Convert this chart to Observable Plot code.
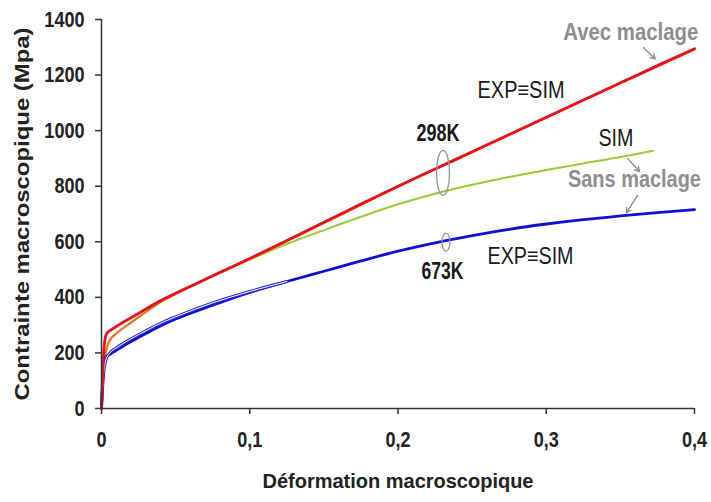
<!DOCTYPE html>
<html><head><meta charset="utf-8">
<script src="https://cdn.jsdelivr.net/npm/d3@7"></script>
<script src="https://cdn.jsdelivr.net/npm/@observablehq/plot@0.6"></script>
<style>
body{margin:0;background:#fff;}
#chart svg{display:block;}
</style></head><body><div id="chart"></div>
<script>
const xTicks = [0, 0.1, 0.2, 0.3, 0.4];
const yTicks = [0, 200, 400, 600, 800, 1000, 1200, 1400];

// 298K, with twinning — experiment
const redExpStrain = [0, 0.001, 0.002, 0.0035, 0.007, 0.01, 0.015, 0.019, 0.03, 0.04, 0.05, 0.06, 0.075, 0.09, 0.1, 0.125, 0.15, 0.175, 0.2, 0.225, 0.25, 0.275, 0.3, 0.325, 0.35, 0.375, 0.4];
const redExpStress = [0, 150, 235, 270, 285, 295, 312, 324, 358, 389, 415, 440, 478, 515, 540, 605, 670, 736, 800, 862, 924, 986, 1048, 1110, 1172, 1234, 1295];

// 298K, with twinning — simulation
const orangeSimStrain = [0, 0.001, 0.0035, 0.006, 0.01, 0.019, 0.028, 0.04, 0.05, 0.075, 0.1, 0.15, 0.2, 0.25, 0.3, 0.35, 0.4];
const orangeSimStress = [0, 120, 216, 248, 270, 306, 340, 384, 412, 476, 538, 667, 798, 922, 1046, 1170, 1292];

// 298K, without twinning — simulation
const greenSimStrain = [0, 0.001, 0.0035, 0.006, 0.01, 0.019, 0.028, 0.04, 0.05, 0.075, 0.1, 0.125, 0.15, 0.175, 0.2, 0.225, 0.25, 0.275, 0.3, 0.325, 0.35, 0.372];
const greenSimStress = [0, 120, 216, 248, 270, 306, 340, 384, 412, 476, 536, 592, 642, 690, 735, 773, 805, 833, 858, 882, 905, 928];

// 673K — experiment
const blueExpStrain = [0, 0.001, 0.002, 0.003, 0.006, 0.01, 0.019, 0.03, 0.042, 0.05, 0.075, 0.1, 0.125, 0.15, 0.175, 0.2, 0.225, 0.25, 0.275, 0.3, 0.325, 0.35, 0.375, 0.4];
const blueExpStress = [0, 110, 165, 184, 196, 209, 238, 270, 303, 322, 372, 418, 457, 494, 531, 566, 596, 622, 645, 664, 680, 693, 705, 716];

// 673K — simulation
const blueSimStrain = [0, 0.001, 0.003, 0.006, 0.01, 0.019, 0.03, 0.042, 0.05, 0.075, 0.1, 0.125];
const blueSimStress = [0, 100, 175, 202, 218, 248, 280, 312, 330, 380, 421, 457];

// annotations
const noteText = ["Avec maclage", "EXP\u2261SIM", "298K", "SIM", "Sans maclage", "EXP\u2261SIM", "673K"];
const noteX = [0.357, 0.283, 0.227, 0.347, 0.3595, 0.2894, 0.230];
const noteY = [1353, 1144, 990, 970, 823, 546, 494];
const noteColor = ["#8e8e8e", "#1a1a1a", "#1a1a1a", "#1a1a1a", "#8e8e8e", "#1a1a1a", "#1a1a1a"];
const noteBold = [true, false, true, false, true, false, true];
const noteWidth = [135, 87, 43, 35, 133, 86, 42];

const arrowX1 = [0.3656, 0.3548, 0.3616];
const arrowY1 = [1299, 900, 767];
const arrowX2 = [0.3735, 0.3629, 0.3541];
const arrowY2 = [1258, 853, 705];

const ellipseX = [0.2307, 0.2327];
const ellipseY = [846, 597];

const xLabel = "Déformation macroscopique";
const yLabel = "Contrainte macroscopique (Mpa)";

const toRows = (xs, ys) => xs.map((x, i) => ({x, y: ys[i]}));
const redExp = toRows(redExpStrain, redExpStress);
const orangeSim = toRows(orangeSimStrain, orangeSimStress);
const greenSim = toRows(greenSimStrain, greenSimStress);
const blueExp = toRows(blueExpStrain, blueExpStress);
const blueSim = toRows(blueSimStrain, blueSimStress);
const notes = noteText.map((t, i) => ({t, x: noteX[i], y: noteY[i], c: noteColor[i], b: noteBold[i], w: noteWidth[i]}));
const arrows = arrowX1.map((x1, i) => ({x1, y1: arrowY1[i], x2: arrowX2[i], y2: arrowY2[i]}));

const FONT = "'Liberation Sans', Arial, sans-serif";
const fmt = d => d === 0 ? "0" : String(d).replace(".", ",");

const plot = Plot.plot({
  width: 711,
  height: 502,
  marginLeft: 101,
  marginRight: 17,
  marginTop: 19,
  marginBottom: 94,
  style: {fontFamily: FONT, background: "#fff", overflow: "visible"},
  x: {domain: [0, 0.4]},
  y: {domain: [0, 1400]},
  marks: [
    Plot.axisX({ticks: xTicks, tickFormat: fmt, tickSize: 6, tickPadding: 17, fontSize: 22, fontWeight: "bold", stroke: "#333", strokeWidth: 1.5, fill: "#222", label: null}),
    Plot.axisY({ticks: yTicks, tickFormat: d => String(d), tickSize: 6, tickPadding: 11, fontSize: 22, fontWeight: "bold", stroke: "#333", strokeWidth: 1.5, fill: "#222", label: null}),
    Plot.line(greenSim, {x: "x", y: "y", stroke: "#9acb3a", strokeWidth: 2, curve: "monotone-x"}),
    Plot.line(orangeSim, {x: "x", y: "y", stroke: "#e8742a", strokeWidth: 2, curve: "monotone-x"}),
    Plot.line(blueExp, {x: "x", y: "y", stroke: "#1010d4", strokeWidth: 2.8, curve: "monotone-x"}),
    Plot.line(blueSim, {x: "x", y: "y", stroke: "#2a2ae0", strokeWidth: 3, curve: "monotone-x"}),
    Plot.line(blueSim, {x: "x", y: "y", stroke: "#ffffff", strokeWidth: 1, curve: "monotone-x"}),
    Plot.line(redExp, {x: "x", y: "y", stroke: "#e81218", strokeWidth: 2.8, curve: "monotone-x"}),
    Plot.ruleX([0], {stroke: "#333", strokeWidth: 1.5}),
    Plot.ruleY([0], {stroke: "#333", strokeWidth: 1.5}),
    Plot.arrow(arrows, {x1: "x1", y1: "y1", x2: "x2", y2: "y2", stroke: "#8a8a8a", strokeWidth: 1.3, headLength: 6}),
    Plot.text(notes.filter(d => d.b), {x: "x", y: "y", text: "t", fill: "c", fontWeight: "bold", fontSize: 23, className: "note"}),
    Plot.text(notes.filter(d => !d.b), {x: "x", y: "y", text: "t", fill: "c", fontSize: 23, className: "note"}),
    Plot.text([xLabel], {frameAnchor: "bottom", dy: 79, fontSize: 21, fontWeight: "bold", fill: "#222", className: "xtitle"}),
    Plot.text([yLabel], {frameAnchor: "left", textAnchor: "middle", dx: -79, rotate: -90, fontSize: 21, fontWeight: "bold", fill: "#222", className: "ytitle"})
  ]
});

// ellipse markers, placed through the plot's scales
const sx = plot.scale("x"), sy = plot.scale("y");
const svg = d3.select(plot);
svg.selectAll("ellipse.mark-ell").data(ellipseX.map((x, i) => ({x, y: ellipseY[i], i})))
  .join("ellipse")
  .attr("class", "mark-ell")
  .attr("cx", d => sx.apply(d.x))
  .attr("cy", d => sy.apply(d.y))
  .attr("rx", d => d.i === 0 ? 6.5 : 4)
  .attr("ry", d => d.i === 0 ? 22.5 : 9)
  .attr("fill", "none")
  .attr("stroke", "#8a9a9a")
  .attr("stroke-width", 1.3);

document.getElementById("chart").appendChild(plot);

// condense text to match the narrow face of the original
const condense = (sel, f) => sel.each(function () {
  const len = this.getComputedTextLength();
  this.setAttribute("textLength", (typeof f === "function" ? f(this) : len * f));
  this.setAttribute("lengthAdjust", "spacingAndGlyphs");
});
condense(svg.selectAll('g[aria-label="x-axis tick label"] text, g[aria-label="y-axis tick label"] text'), 0.82);
const widthByText = new Map();
notes.forEach(d => { if (!widthByText.has(d.t)) widthByText.set(d.t, []); widthByText.get(d.t).push(d.w); });
svg.selectAll("g.note text").each(function () {
  const arr = widthByText.get(this.textContent);
  const w = arr ? arr.shift() : this.getComputedTextLength();
  this.setAttribute("textLength", w);
  this.setAttribute("lengthAdjust", "spacingAndGlyphs");
});
condense(svg.selectAll("g.xtitle text"), () => 271);
condense(svg.selectAll("g.ytitle text"), () => 373);
</script></body></html>
